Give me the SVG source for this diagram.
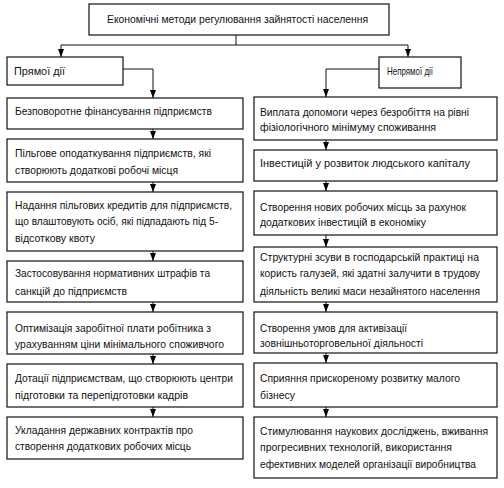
<svg xmlns="http://www.w3.org/2000/svg" width="504" height="488" viewBox="0 0 504 488">
<defs>
<marker id="ah" viewBox="0 0 8 8" refX="8" refY="4" markerWidth="8" markerHeight="8" markerUnits="userSpaceOnUse" orient="auto">
<path d="M0,1 L8,4 L0,7 Z" fill="#000"/>
</marker>
<style>
rect{fill:#fff;stroke:#111;stroke-width:1.2}
text{fill:#111}
.c{fill:none;stroke:#111;stroke-width:1;marker-end:url(#ah)}
.l{fill:none;stroke:#111;stroke-width:1}
</style>
</defs>
<rect x="0" y="0" width="504" height="488" style="fill:#fff;stroke:none"/>
<g id="connectors">
<path class="l" d="M236,35 V45 M61,45 H408"/>
<path class="c" d="M61,45 V57"/>
<path class="c" d="M408,45 V57"/>
<path class="c" d="M123,69 H153 V98"/>
<path class="c" d="M379,69 H326 V97"/>
<path class="c" d="M153,129 V139"/>
<path class="c" d="M153,182 V192"/>
<path class="c" d="M153,251 V261"/>
<path class="c" d="M153,302 V312"/>
<path class="c" d="M153,354 V364"/>
<path class="c" d="M153,407 V417"/>
<path class="c" d="M326,140 V150"/>
<path class="c" d="M326,181 V191"/>
<path class="c" d="M326,235 V247"/>
<path class="c" d="M326,302 V312"/>
<path class="c" d="M326,353 V363"/>
<path class="c" d="M326,407 V417"/>
</g>
<g font-family="Liberation Sans, Arial, sans-serif" font-size="11.5">
<g id="root"><rect x="89" y="4" width="300" height="31"/><text x="107" y="23" textLength="261" lengthAdjust="spacingAndGlyphs">Економічні методи регулювання зайнятості населення</text></g>
<g id="direct"><rect x="7" y="57" width="116" height="28"/><text x="14" y="75" textLength="51" lengthAdjust="spacingAndGlyphs">Прямої дії</text></g>
<g id="indirect"><rect x="379" y="57" width="82" height="31"/><text x="387" y="75" textLength="46" lengthAdjust="spacingAndGlyphs">Непрямої дії</text></g>
<g id="l1"><rect x="7" y="98" width="236" height="31"/><text x="15" y="115" textLength="197" lengthAdjust="spacingAndGlyphs">Безповоротне фінансування підприємств</text></g>
<g id="l2"><rect x="7" y="139" width="236" height="43"/><text x="15" y="157" textLength="196" lengthAdjust="spacingAndGlyphs">Пільгове оподаткування підприємств, які</text><text x="15" y="174" textLength="163" lengthAdjust="spacingAndGlyphs">створюють додаткові робочі місця</text></g>
<g id="l3"><rect x="7" y="192" width="236" height="59"/><text x="15" y="209" textLength="217" lengthAdjust="spacingAndGlyphs">Надання пільгових кредитів для підприємств,</text><text x="15" y="225" textLength="203" lengthAdjust="spacingAndGlyphs">що влаштовують осіб, які підпадають під 5-</text><text x="15" y="242" textLength="80" lengthAdjust="spacingAndGlyphs">відсоткову квоту</text></g>
<g id="l4"><rect x="7" y="261" width="236" height="41"/><text x="15" y="277" textLength="195" lengthAdjust="spacingAndGlyphs">Застосовування нормативних штрафів та</text><text x="15" y="295" textLength="112" lengthAdjust="spacingAndGlyphs">санкцій до підприємств</text></g>
<g id="l5"><rect x="7" y="312" width="236" height="42"/><text x="15" y="332" textLength="196" lengthAdjust="spacingAndGlyphs">Оптимізація заробітної плати робітника з</text><text x="15" y="348" textLength="209" lengthAdjust="spacingAndGlyphs">урахуванням ціни мінімального споживчого</text></g>
<g id="l6"><rect x="7" y="364" width="236" height="43"/><text x="15" y="382" textLength="218" lengthAdjust="spacingAndGlyphs">Дотації підприємствам, що створюють центри</text><text x="15" y="399" textLength="173" lengthAdjust="spacingAndGlyphs">підготовки та перепідготовки кадрів</text></g>
<g id="l7"><rect x="7" y="417" width="236" height="42"/><text x="15" y="434" textLength="178" lengthAdjust="spacingAndGlyphs">Укладання державних контрактів про</text><text x="15" y="450" textLength="176" lengthAdjust="spacingAndGlyphs">створення додаткових робочих місць</text></g>
<g id="r1"><rect x="254" y="97" width="243" height="43"/><text x="260" y="116" textLength="209" lengthAdjust="spacingAndGlyphs">Виплата допомоги через безробіття на рівні</text><text x="260" y="131" textLength="176" lengthAdjust="spacingAndGlyphs">фізіологічного мінімуму споживання</text></g>
<g id="r2"><rect x="254" y="150" width="243" height="31"/><text x="260" y="167" textLength="210" lengthAdjust="spacingAndGlyphs">Інвестицій у розвиток людського капіталу</text></g>
<g id="r3"><rect x="254" y="191" width="243" height="44"/><text x="260" y="211" textLength="206" lengthAdjust="spacingAndGlyphs">Створення нових робочих місць за рахунок</text><text x="260" y="226" textLength="166" lengthAdjust="spacingAndGlyphs">додаткових інвестицій в економіку</text></g>
<g id="r4"><rect x="254" y="247" width="243" height="55"/><text x="260" y="261" textLength="219" lengthAdjust="spacingAndGlyphs" font-size="11">Структурні зсуви в господарській практиці на</text><text x="260" y="277" textLength="220" lengthAdjust="spacingAndGlyphs" font-size="11">користь галузей, які здатні залучити в трудову</text><text x="260" y="295" textLength="220" lengthAdjust="spacingAndGlyphs" font-size="11">діяльність великі маси незайнятого населення</text></g>
<g id="r5"><rect x="254" y="312" width="243" height="41"/><text x="260" y="332" textLength="147" lengthAdjust="spacingAndGlyphs">Створення умов для активізації</text><text x="260" y="347" textLength="163" lengthAdjust="spacingAndGlyphs">зовнішньоторговельної діяльності</text></g>
<g id="r6"><rect x="254" y="363" width="243" height="44"/><text x="260" y="382" textLength="200" lengthAdjust="spacingAndGlyphs">Сприяння прискореному розвитку малого</text><text x="260" y="399" textLength="35" lengthAdjust="spacingAndGlyphs">бізнесу</text></g>
<g id="r7"><rect x="254" y="417" width="243" height="61"/><text x="260" y="435" textLength="228" lengthAdjust="spacingAndGlyphs" font-size="11">Стимулювання наукових досліджень, вживання</text><text x="260" y="451" textLength="192" lengthAdjust="spacingAndGlyphs">прогресивних технологій, використання</text><text x="260" y="468" textLength="216" lengthAdjust="spacingAndGlyphs">ефективних моделей організації виробництва</text></g>
</g>
</svg>
